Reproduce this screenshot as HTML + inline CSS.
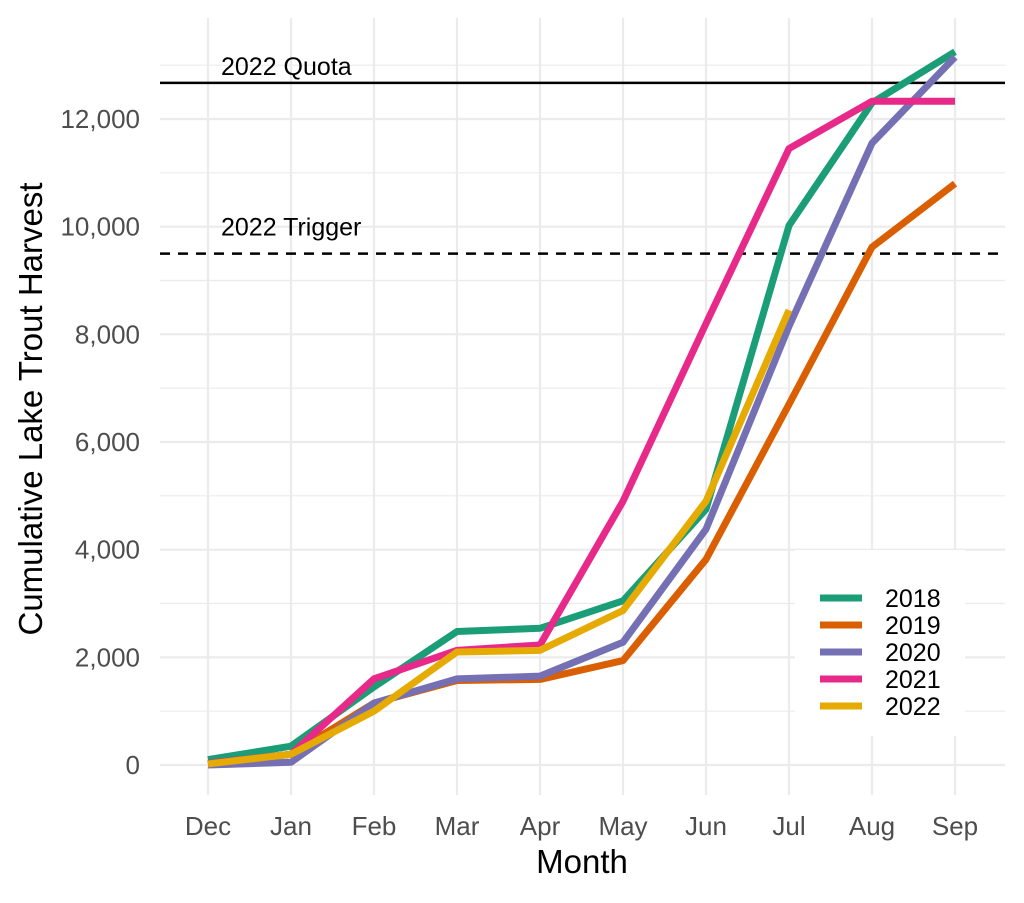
<!DOCTYPE html>
<html><head><meta charset="utf-8"><style>
body{margin:0;background:#fff}
svg text{font-family:"Liberation Sans",sans-serif}
</style></head><body>
<svg id="chart" width="1024" height="898" xmlns="http://www.w3.org/2000/svg">
<g id="grid"></g><g id="refs"></g><g id="lines"></g><g id="axes"></g><g id="legend"></g>
</svg>
<script>
const months=["Dec","Jan","Feb","Mar","Apr","May","Jun","Jul","Aug","Sep"];
const years=["2018","2019","2020","2021","2022"];
const colors=["#1b9e77","#d95f02","#7570b3","#e7298a","#e6ab02"];
const s2018=[100,350,1450,2480,2540,3050,4750,10020,12300,13250];
const s2019=[20,200,1150,1570,1590,1940,3820,6700,9620,10800];
const s2020=[0,50,1150,1600,1650,2280,4380,8150,11550,13150];
const s2021=[30,200,1600,2130,2230,4900,8200,11450,12330,12330];
const s2022=[20,200,1000,2100,2130,2870,4900,8450];
const series=[s2018,s2019,s2020,s2021,s2022];
const yTicks=[0,2000,4000,6000,8000,10000,12000];
const yTickLabels=["0","2,000","4,000","6,000","8,000","10,000","12,000"];
const quota=12670, trigger=9500;
const NS="http://www.w3.org/2000/svg";
const L=160,R=1005,T=18,B=795;
const x=i=>208+i*83;
const y=v=>765-v*(646/12000);
function mk(tag,attrs,parent,txt){const e=document.createElementNS(NS,tag);for(const k in attrs)e.setAttribute(k,attrs[k]);if(txt!==undefined)e.textContent=txt;parent.appendChild(e);return e;}
const grid=document.getElementById('grid');
for(let v=1000;v<=13000;v+=2000){const e=mk('line',{x1:L,x2:R,y1:y(v),y2:y(v),stroke:'#ebebeb','stroke-width':1.2},grid);

}
yTicks.forEach(v=>{const e=mk('line',{x1:L,x2:R,y1:y(v),y2:y(v),stroke:'#ebebeb','stroke-width':2.2},grid);

});
months.forEach((m,i)=>{const e=mk('line',{x1:x(i),x2:x(i),y1:T,y2:B,stroke:'#ebebeb','stroke-width':2.2},grid);

});
const refs=document.getElementById('refs');
let q=mk('line',{x1:L,x2:R,y1:y(quota),y2:y(quota),stroke:'#000','stroke-width':2.5},refs);


let qt=mk('text',{x:221,y:y(quota)-8,'font-size':25},refs,'2022 Quota');


let t=mk('line',{x1:L,x2:R,y1:y(trigger),y2:y(trigger),stroke:'#000','stroke-width':2.5,'stroke-dasharray':'10,8'},refs);


let tt=mk('text',{x:221,y:y(trigger)-18,'font-size':25},refs,'2022 Trigger');


const lines=document.getElementById('lines');
series.forEach((s,k)=>{const p=mk('polyline',{points:s.map((v,i)=>x(i)+','+y(v)).join(' '),fill:'none',stroke:colors[k],'stroke-width':7,'stroke-linejoin':'round'},lines);

});
const axes=document.getElementById('axes');
yTicks.forEach((v,i)=>{const e=mk('text',{x:140,y:y(v)+9,'font-size':26,fill:'#4d4d4d','text-anchor':'end'},axes,yTickLabels[i]);

});
months.forEach((m,i)=>{const e=mk('text',{x:x(i),y:835,'font-size':26,fill:'#4d4d4d','text-anchor':'middle'},axes,m);

});
let xt=mk('text',{x:582,y:873,'font-size':33,'text-anchor':'middle'},axes,'Month');


let yt=mk('text',{x:0,y:0,'font-size':33,'text-anchor':'middle',transform:'translate(42,409) rotate(-90)'},axes,'Cumulative Lake Trout Harvest');


const lg=document.getElementById('legend');
let bg=mk('rect',{x:795,y:550,width:170,height:186,fill:'#fff'},lg);


years.forEach((yr,k)=>{const yy=598+k*27;
const g=mk('g',{},lg);


mk('line',{x1:820,x2:862,y1:yy,y2:yy,stroke:colors[k],'stroke-width':7},g);
mk('text',{x:885,y:yy+9,'font-size':25},g,yr);});
</script>
</body></html>
